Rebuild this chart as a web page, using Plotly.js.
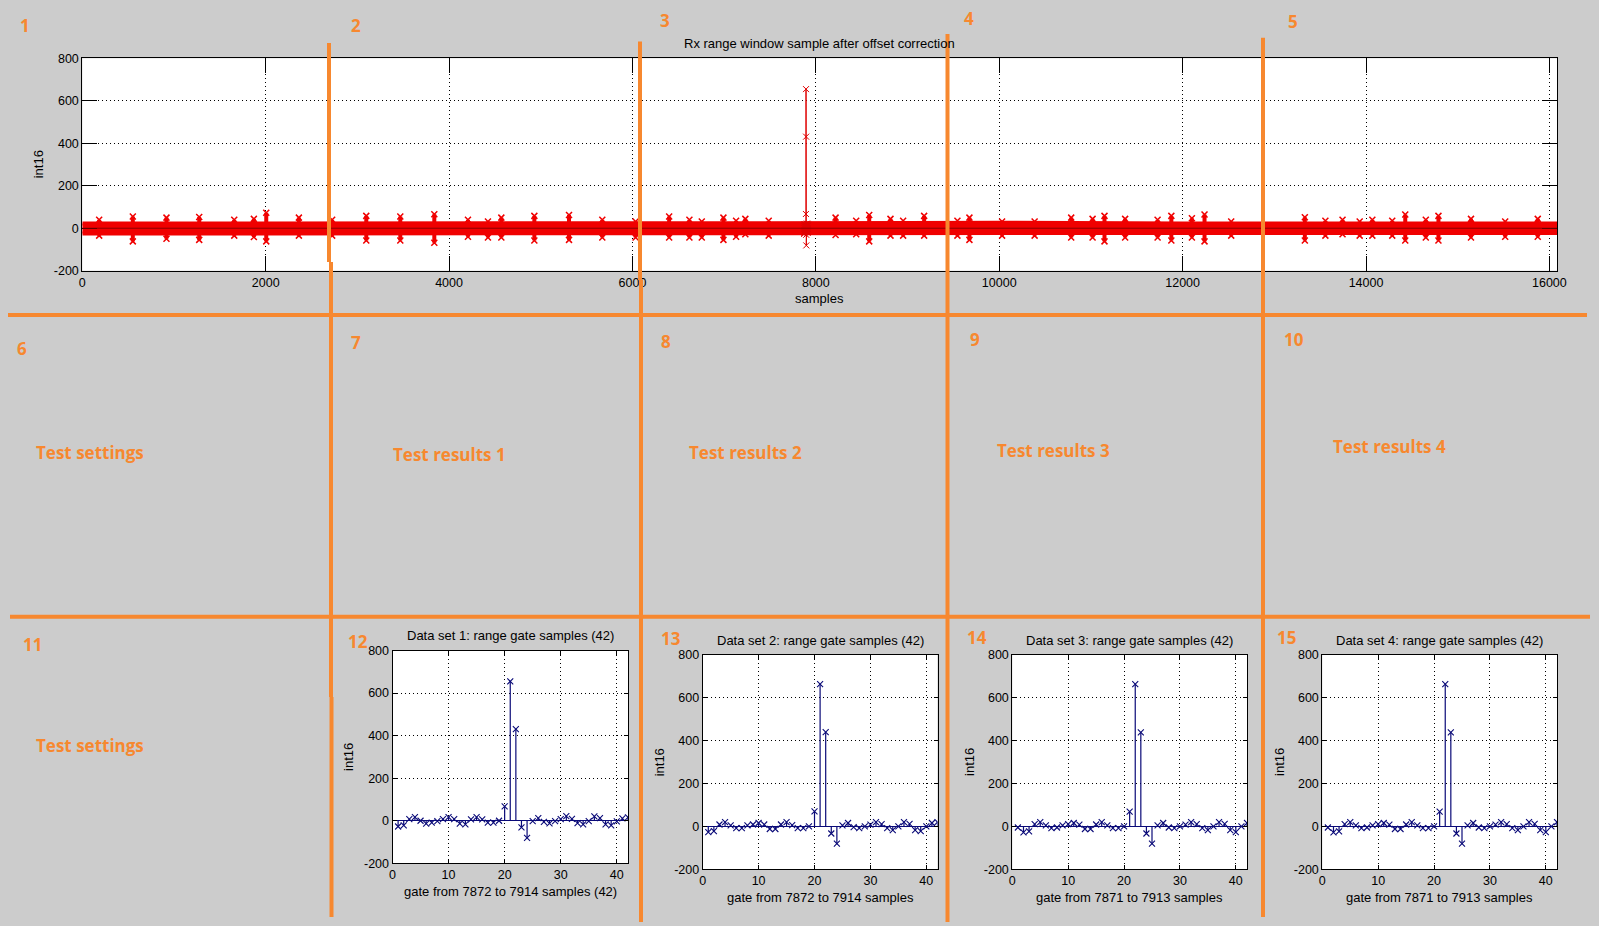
<!DOCTYPE html>
<html><head><meta charset="utf-8">
<script src="https://cdn.plot.ly/plotly-3.0.1.min.js"></script>
<style>html,body{margin:0;padding:0;background:#cccccc;overflow:hidden}#chart{width:1599px;height:926px}</style>
</head><body><div id="chart"></div>
<script>
// ---------- DATA ----------
const gateIdx = [1,2,3,4,5,6,7,8,9,10,11,12,13,14,15,16,17,18,19,20,21,22,23,24,25,26,27,28,29,30,31,32,33,34,35,36,37,38,39,40,41,42];
const ds1 = [-27,-22,8,17,0,-14,-9,-2,8,17,8,-14,-17,6,17,6,-9,-9,0,67,655,431,-31,-81,-2,12,-5,-12,-2,8,22,9,-11,-17,-2,20,12,-17,-22,-3,11,16];
const ds2 = [-27,-22,9,20,5,-8,-8,5,9,16,9,-12,-12,9,20,6,-8,-8,0,70,664,440,-33,-80,5,16,-3,-8,0,8,20,11,-8,-17,0,20,12,-17,-22,0,16,20];
const ds3 = [-5,-28,-23,11,20,5,-8,-5,5,11,16,8,-12,-12,9,20,5,-8,-8,0,69,664,439,-33,-80,5,16,-5,-8,0,8,20,11,-8,-17,0,20,12,-17,-27,0,16];
const ds4 = [-5,-28,-23,11,20,5,-8,-5,5,11,16,8,-12,-12,9,20,5,-8,-8,0,69,664,439,-33,-80,5,16,-5,-8,0,8,20,11,-8,-17,0,20,12,-17,-27,0,20];
const gateFrom = [7872,7872,7871,7871];
const gateTo   = [7914,7914,7913,7913];
const setNames = ["Data set 1","Data set 2","Data set 3","Data set 4"];

// full range window (16000+ samples): band envelope + bursts
const bandX  = [0,1000,2000,3000,4000,5000,6000,7000,8000,9000,10000,11000,12000,13000,14000,15000,16000,16083];
const bandHi = [22,22,22,21,22,23,23,24,25,24,26,23,22,22,22,22,22,22];
const bandLo = [-25,-25,-24,-24,-25,-24,-23,-22,-22,-22,-23,-22,-22,-22,-22,-22,-22,-22];
const burstX  = [184,551,918,1275,1657,1871,2006,2362,2725,3097,3468,3839,4206,4424,4570,4930,5308,5671,6034,6400,6621,6756,6992,7130,7231,7486,8215,8440,8582,8814,8952,9181,9544,9675,10031,10386,10785,11018,11148,11373,11727,11877,12101,12239,12530,13333,13557,13744,13931,14069,14286,14428,14652,14790,15145,15518,15873];
const burstHi = [40,55,50,53,40,44,73,50,40,58,55,66,40,32,50,58,62,40,32,55,40,32,50,35,44,35,50,35,62,44,35,58,35,50,32,32,50,44,58,44,40,58,47,65,32,52,35,40,32,40,35,65,40,58,44,32,44];
const burstLo = [-35,-62,-50,-55,-35,-41,-62,-35,-35,-58,-58,-68,-40,-44,-44,-58,-55,-44,-44,-44,-44,-44,-55,-40,-28,-35,-32,-28,-62,-35,-35,-35,-35,-55,-35,-35,-44,-44,-62,-44,-44,-58,-44,-62,-35,-58,-35,-28,-35,-35,-35,-58,-44,-58,-44,-40,-40];
const xTicksTop = [0,2000,4000,6000,8000,10000,12000,14000,16000];
const xTicksTopText = ["0","2000","4000","6000","8000","10000","12000","14000","16000"];
const xTicksGate = [0,10,20,30,40];
const xTicksGateText = ["0","10","20","30","40"];
const yTicks = [-200,0,200,400,600,800];
const yTicksText = ["-200","0","200","400","600","800"];

// ---------- LAYOUT HELPERS ----------
const W = 1599, H = 926;
const fx = p => p / W, fy = p => 1 - p / H;
const RED = '#ff0000', NAVY = '#0a0a78', ORANGE = '#f7882f';
const FONT = 'Liberation Sans, Arial, sans-serif';

const boxes = {
  top: {L:82.3, R:1557, T:58.3, B:270.7},
  p1:  {L:392.5, R:628, T:650.5, B:863.3},
  p2:  {L:702.7, R:937.5, T:655, B:869.3},
  p3:  {L:1012.3, R:1247, T:655, B:869.3},
  p4:  {L:1322.3, R:1557, T:655, B:869.3}
};

function axisX(b, range, ticks, text, anchor, tl) {
  return {domain:[fx(b.L), fx(b.R)], range:range, anchor:anchor, tickmode:'array', tickvals:ticks, ticktext:text,
    ticks:'inside', ticklen:tl, tickcolor:'#000', showline:true, linecolor:'#000', linewidth:1, mirror:'ticks',
    showgrid:true, gridcolor:'#000', griddash:'1px,3px', gridwidth:1, zeroline:false,
    tickfont:{family:FONT, size:12.5, color:'#000'}, fixedrange:true};
}
function axisY(b, anchor, tl, zl) {
  return {domain:[fy(b.B), fy(b.T)], range:[-200,800], anchor:anchor, tickmode:'array', tickvals:yTicks, ticktext:yTicksText,
    ticks:'inside', ticklen:tl, tickcolor:'#000', showline:true, linecolor:'#000', linewidth:1, mirror:'ticks',
    showgrid:true, gridcolor:'#000', griddash:'1px,3px', gridwidth:1,
    zeroline:zl, zerolinecolor:NAVY, zerolinewidth:1,
    tickfont:{family:FONT, size:12.5, color:'#000'}, fixedrange:true};
}

// ---------- TRACES ----------
const traces = [];
// band
traces.push({x:bandX.concat(bandX.slice().reverse()), y:bandHi.concat(bandLo.slice().reverse()),
  xaxis:'x', yaxis:'y', mode:'lines', fill:'toself', fillcolor:'#f00000', line:{color:'#f00000', width:4},
  hoverinfo:'skip', showlegend:false});
// bursts
const bx = [], by = [];
burstX.forEach((x,i)=>{ bx.push(x,x,null); by.push(burstLo[i],burstHi[i],null); });
traces.push({x:bx, y:by, xaxis:'x', yaxis:'y', mode:'lines+markers', line:{color:'#f00000', width:4},
  marker:{symbol:'x-thin', size:6, line:{color:'#f00000', width:1.5}}, hoverinfo:'skip', showlegend:false});
// spike region (range gate of data set 1 within the full window)
traces.push({x:gateIdx.map(i=>gateFrom[0]+i), y:ds1, xaxis:'x', yaxis:'y', mode:'lines+markers',
  line:{color:'#e00000', width:1}, marker:{symbol:'x-thin', size:6, line:{color:'#e00000', width:1}},
  hoverinfo:'skip', showlegend:false});

const sets = [ds1, ds2, ds3, ds4];
sets.forEach((d,k)=>{
  const ax = 'x'+(k+2), ay = 'y'+(k+2);
  const sx = [], sy = [];
  gateIdx.forEach((g,i)=>{ sx.push(g,g,null); sy.push(0,d[i],null); });
  traces.push({x:sx, y:sy, xaxis:ax, yaxis:ay, mode:'lines', line:{color:NAVY, width:1.2}, hoverinfo:'skip', showlegend:false});
  traces.push({x:gateIdx, y:d, xaxis:ax, yaxis:ay, mode:'markers',
    marker:{symbol:'x-thin', size:6, line:{color:NAVY, width:1.1}}, hoverinfo:'skip', showlegend:false});
});

// ---------- ANNOTATIONS ----------
const ann = [];
function txt(x, y, t, opt) {
  ann.push(Object.assign({xref:'paper', yref:'paper', x:fx(x), y:fy(y), text:t, showarrow:false,
    xanchor:'center', yanchor:'middle', font:{family:FONT, size:13, color:'#000'}}, opt||{}));
}
function labelPlot(b, title, xl) {
  const cx = (b.L + b.R) / 2;
  txt(cx, b.T - 15, title);
  txt(cx, b.B + 28, xl);
  txt(b.L - 43.5, (b.T + b.B) / 2, 'int16', {textangle:-90});
}
labelPlot(boxes.top, 'Rx range window sample after offset correction', 'samples');
['p1','p2','p3','p4'].forEach((k,i)=>{
  labelPlot(boxes[k], setNames[i] + ': range gate samples (' + gateIdx.length + ')',
    'gate from ' + gateFrom[i] + ' to ' + gateTo[i] + ' samples' + (i===0 ? ' (' + gateIdx.length + ')' : ''));
});

// orange overlay labels
const OF = {family:'Open Sans, sans-serif', size:17, color:ORANGE};
const nums = [['1',24.5,25.5],['2',355.8,25.5],['3',664.6,20.4],['4',969.4,18.3],['5',1292.6,21.4],
  ['6',22.4,348.6],['7',355.8,342.5],['8',665.6,341.5],['9',975.5,339.4],['10',1293.6,339.4],
  ['11',32.6,644.2],['12',358,641.2],['13',670.7,638.1],['14',976.6,637.1],['15',1286.4,637.1]];
nums.forEach(n=>txt(n[1], n[2], '<b>'+n[0]+'</b>', {font:OF}));
const sects = [['Test settings',89.7,452.6],['Test results 1',449.5,454.6],['Test results 2',745.2,452.6],
  ['Test results 3',1053,450.6],['Test results 4',1389.4,446.5],['Test settings',89.7,745.2]];
sects.forEach(s=>txt(s[1], s[2], '<b>'+s[0]+'</b>', {font:OF}));

// ---------- SHAPES ----------
const shapes = [];
// dark zero line of top plot
shapes.push({type:'line', xref:'x domain', yref:'y', x0:0, x1:1, y0:0, y1:0, line:{color:'#8a0000', width:1}, layer:'above'});
function oline(x0,y0,x1,y1){ shapes.push({type:'line', xref:'paper', yref:'paper', x0:fx(x0), y0:fy(y0), x1:fx(x1), y1:fy(y1),
  line:{color:ORANGE, width:4}, layer:'above'}); }
oline(8, 315, 1587, 315);
oline(10, 616.7, 1590, 616.7);
oline(329, 43, 329, 262); oline(331, 262, 331, 697); oline(331.5, 697, 331.5, 917);
oline(640, 41.5, 640, 280); oline(641, 280, 641, 922);
oline(947.5, 34, 947.5, 922);
oline(1263, 37.7, 1263, 917);

const layout = {
  width:W, height:H, margin:{l:0,r:0,t:0,b:0,pad:0}, paper_bgcolor:'#cccccc', plot_bgcolor:'#ffffff',
  showlegend:false, annotations:ann, shapes:shapes,
  xaxis: axisX(boxes.top, [0,16083], xTicksTop, xTicksTopText, 'y', 15),
  yaxis: axisY(boxes.top, 'x', 15, false),
  xaxis2: axisX(boxes.p1, [0,42], xTicksGate, xTicksGateText, 'y2', 4), yaxis2: axisY(boxes.p1, 'x2', 4, true),
  xaxis3: axisX(boxes.p2, [0,42], xTicksGate, xTicksGateText, 'y3', 4), yaxis3: axisY(boxes.p2, 'x3', 4, true),
  xaxis4: axisX(boxes.p3, [0,42], xTicksGate, xTicksGateText, 'y4', 4), yaxis4: axisY(boxes.p3, 'x4', 4, true),
  xaxis5: axisX(boxes.p4, [0,42], xTicksGate, xTicksGateText, 'y5', 4), yaxis5: axisY(boxes.p4, 'x5', 4, true)
};
Plotly.newPlot('chart', traces, layout, {staticPlot:true, displayModeBar:false});
</script></body></html>
